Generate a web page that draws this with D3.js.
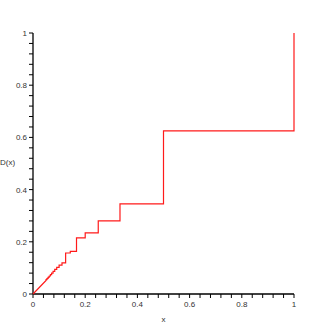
<!DOCTYPE html>
<html>
<head>
<meta charset="utf-8">
<script src="https://cdn.jsdelivr.net/npm/d3@7"></script>
<style>
  body { margin: 0; background: #fff; }
  text { font-family: "Liberation Sans", Arial, sans-serif; }
</style>
</head>
<body>
<div id="chart"></div>
<script>
// left edge of each step and value of D(x) on that step
const stepStart = [0.05, 0.0526, 0.0556, 0.0588, 0.0625, 0.0667, 0.0714, 0.0769, 0.0833, 0.0909,
                   0.1, 0.1111, 0.125, 0.1429, 0.1667, 0.2, 0.25, 0.3333, 0.5, 1];
const stepValue = [0.055, 0.058, 0.061, 0.065, 0.069, 0.074, 0.080, 0.087, 0.094, 0.102,
                   0.111, 0.119, 0.157, 0.163, 0.215, 0.234, 0.280, 0.345, 0.625, 1];
const firstValue = 0.052;   // value just before x = 0.05
const xTicks = [0, 0.2, 0.4, 0.6, 0.8, 1];
const yTicks = [0, 0.2, 0.4, 0.6, 0.8, 1];
const minorStep = 0.04;

const width = 327, height = 327;
const x = d3.scaleLinear().domain([0, 1]).range([33, 294]);
const y = d3.scaleLinear().domain([0, 1]).range([294, 33]);

const svg = d3.select("#chart").append("svg")
    .attr("width", width)
    .attr("height", height);

// build staircase points
const pts = [[0, 0]];
let prev = firstValue;
stepStart.forEach((s, i) => {
    pts.push([s, prev]);
    pts.push([s, stepValue[i]]);
    prev = stepValue[i];
});

const minor = d3.range(0, 1 + 1e-9, minorStep);

// x axis
const xAxis = svg.append("g").attr("transform", `translate(0,${y(0)})`);
xAxis.append("line").attr("x1", x(0)).attr("x2", x(1)).attr("stroke", "#000").attr("stroke-width", 1.3);
xAxis.selectAll(".mt").data(minor).join("line")
    .attr("x1", d => x(d)).attr("x2", d => x(d))
    .attr("y1", 0).attr("y2", 4)
    .attr("stroke", "#000").attr("stroke-width", 1);
xAxis.selectAll("text").data(xTicks).join("text")
    .attr("x", d => x(d)).attr("y", 13)
    .attr("text-anchor", "middle")
    .style("font-size", "8px").attr("fill", "#333")
    .text(d => d3.format("~g")(d));

// y axis
const yAxis = svg.append("g").attr("transform", `translate(${x(0)},0)`);
yAxis.append("line").attr("y1", y(0)).attr("y2", y(1)).attr("stroke", "#000").attr("stroke-width", 1.3);
yAxis.selectAll(".mt").data(minor).join("line")
    .attr("y1", d => y(d)).attr("y2", d => y(d))
    .attr("x1", 0).attr("x2", -4)
    .attr("stroke", "#000").attr("stroke-width", 1);
yAxis.selectAll("text").data(yTicks).join("text")
    .attr("x", -6).attr("y", d => y(d) + 3)
    .attr("text-anchor", "end")
    .style("font-size", "8px").attr("fill", "#333")
    .text(d => d3.format("~g")(d));

// titles
svg.append("text").attr("x", x(0.5)).attr("y", 322)
    .attr("text-anchor", "middle").style("font-size", "8px").attr("fill", "#333").text("x");
svg.append("text").attr("x", 0).attr("y", 165)
    .style("font-size", "8px").attr("fill", "#333").text("D(x)");

// the staircase
svg.append("path")
    .datum(pts)
    .attr("d", d3.line().x(d => x(d[0])).y(d => y(d[1])))
    .attr("fill", "none")
    .attr("stroke", "#ff1a1a")
    .attr("stroke-width", 1.2);
</script>
</body>
</html>
